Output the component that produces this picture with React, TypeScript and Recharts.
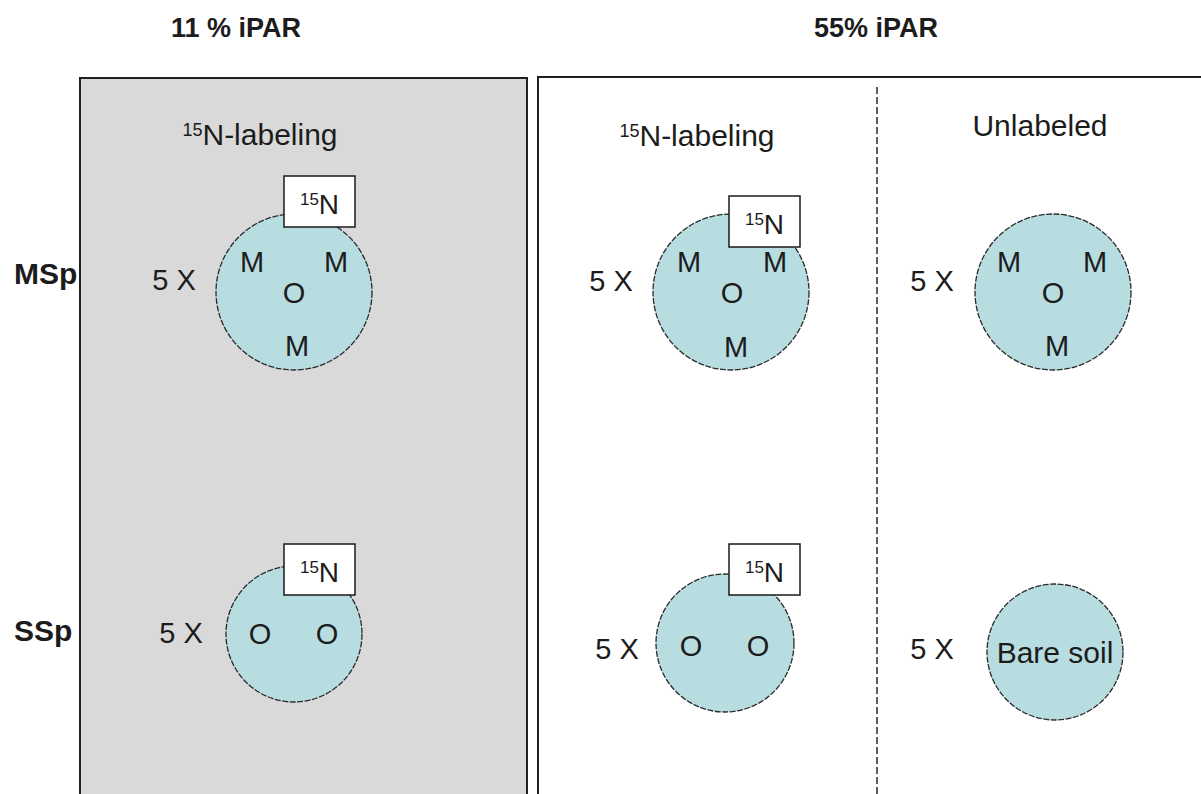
import {
  ReferenceArea,
  ReferenceLine,
  Scatter,
  ScatterChart,
  XAxis,
  YAxis,
} from "recharts";

const W = 1201;
const H = 794;
// layout units: 1 unit = 10 px of the original slide
const X_MAX = 120.1;
const Y_MAX = 79.4;
const PX = W / X_MAX;

const FONT = "'Liberation Sans', Arial, Helvetica, sans-serif";
const INK = "#1c1c1c";

// light treatments
const lightLevels = ["11 % iPAR", "55% iPAR"];
const lightX = [23.6, 87.6];
const lightY = [2.75, 2.75];

// species mixtures (rows)
const mixtures = ["MSp", "SSp"];
const mixtureX = [1.4, 1.4];
const mixtureY = [27.3, 63.0];

// labeling treatments (columns)
const labeling = ["15N-labeling", "15N-labeling", "Unlabeled"];
const labelingX = [26.0, 69.7, 104.0];
const labelingY = [13.4, 13.5, 12.5];

// pots, one per mixture x treatment
const potX = [29.4, 73.1, 105.3, 29.4, 72.5, 105.5];
const potY = [29.2, 29.2, 29.2, 63.4, 64.3, 65.2];
const potR = [7.8, 7.8, 7.8, 6.8, 6.9, 6.8];
const potNote = ["", "", "", "", "", "Bare soil"];

// replication next to each pot
const replicates = ["5 X", "5 X", "5 X", "5 X", "5 X", "5 X"];
const repX = [17.4, 61.1, 93.2, 18.1, 61.7, 93.2];
const repY = [28.0, 28.1, 28.1, 63.3, 64.9, 64.9];

// 15N tags (top-left corner)
const tags = ["15N", "15N", "15N", "15N"];
const tagX = [28.4, 72.9, 28.4, 72.9];
const tagY = [17.6, 19.6, 54.4, 54.4];
const TAG_W = 7.1;
const TAG_H = 5.1;

// plants inside the pots
const plantSpecies = [
  "M", "M", "O", "M",
  "M", "M", "O", "M",
  "M", "M", "O", "M",
  "O", "O",
  "O", "O",
];
const plantX = [
  25.2, 33.6, 29.4, 29.7,
  68.9, 77.5, 73.2, 73.6,
  100.9, 109.5, 105.3, 105.7,
  26.0, 32.7,
  69.1, 75.8,
];
const plantY = [
  26.2, 26.2, 29.3, 34.6,
  26.2, 26.2, 29.3, 34.7,
  26.2, 26.2, 29.3, 34.6,
  63.4, 63.4,
  64.6, 64.6,
];

const titleData = lightLevels.map((text, i) => ({ x: lightX[i], y: lightY[i], text }));
const mixtureData = mixtures.map((text, i) => ({ x: mixtureX[i], y: mixtureY[i], text }));
const labelingData = labeling.map((text, i) => ({ x: labelingX[i], y: labelingY[i], text }));
const potData = potX.map((x, i) => ({ x, y: potY[i], r: potR[i], note: potNote[i] }));
const repData = replicates.map((text, i) => ({ x: repX[i], y: repY[i], text }));
const tagData = tags.map((text, i) => ({ x: tagX[i], y: tagY[i], text }));
const plantData = plantSpecies.map((text, i) => ({ x: plantX[i], y: plantY[i], text }));

// text whose leading "15" is an isotope superscript
function Iso({ text, size }: { text: string; size: number }) {
  if (!text.startsWith("15")) return <>{text}</>;
  const sup = Math.round(size * 0.6);
  const lift = size * 0.3;
  return (
    <>
      <tspan fontSize={sup} dy={-lift}>15</tspan>
      <tspan fontSize={size} dy={lift}>{text.slice(2)}</tspan>
    </>
  );
}

const textShape =
  (size: number, weight: number | string = "normal", anchor: "start" | "middle" = "middle") =>
  (p: any) => (
    <text
      x={p.cx}
      y={p.cy + size * 0.36}
      textAnchor={anchor}
      fontFamily={FONT}
      fontSize={size}
      fontWeight={weight}
      fill={INK}
    >
      <Iso text={p.payload.text} size={size} />
    </text>
  );

const potShape = (p: any) => (
  <g>
    <circle
      cx={p.cx}
      cy={p.cy}
      r={p.payload.r * PX}
      fill="#b8dde1"
      stroke="#2a2a2a"
      strokeWidth={1.3}
      strokeDasharray="6 1.5"
    />
    {p.payload.note && (
      <text
        x={p.cx}
        y={p.cy + 30 * 0.36}
        textAnchor="middle"
        fontFamily={FONT}
        fontSize={30}
        fill={INK}
      >
        {p.payload.note}
      </text>
    )}
  </g>
);

const tagShape = (p: any) => {
  const w = TAG_W * PX;
  const h = TAG_H * PX;
  return (
    <g>
      <rect x={p.cx} y={p.cy} width={w} height={h} fill="#ffffff" stroke="#1a1a1a" strokeWidth={1.5} />
      <text
        x={p.cx + w / 2}
        y={p.cy + h / 2 + 28 * 0.36 + 2}
        textAnchor="middle"
        fontFamily={FONT}
        fontSize={28}
        fill={INK}
      >
        <Iso text={p.payload.text} size={28} />
      </text>
    </g>
  );
};

export default function App() {
  return (
    <div style={{ position: "absolute", left: 0, top: 0, background: "#ffffff" }}>
      <ScatterChart width={W} height={H} margin={{ top: 0, right: 0, bottom: 0, left: 0 }}>
        <XAxis type="number" dataKey="x" domain={[0, X_MAX]} hide />
        <YAxis type="number" dataKey="y" domain={[0, Y_MAX]} reversed hide />
        <ReferenceArea
          x1={8.0}
          x2={52.7}
          y1={7.8}
          y2={Y_MAX + 1}
          ifOverflow="visible"
          fill="#d9d9d9"
          fillOpacity={1}
          stroke="#1f1f1f"
          strokeWidth={2}
        />
        <ReferenceArea
          x1={53.8}
          x2={X_MAX + 1}
          y1={7.7}
          y2={Y_MAX + 1}
          ifOverflow="visible"
          fill="#ffffff"
          fillOpacity={1}
          stroke="#1f1f1f"
          strokeWidth={2}
        />
        <ReferenceLine
          segment={[
            { x: 87.7, y: 8.7 },
            { x: 87.7, y: Y_MAX },
          ]}
          stroke="#2a2a2a"
          strokeWidth={1.5}
          strokeDasharray="7 3"
        />
        <Scatter data={titleData} shape={textShape(27, "bold")} isAnimationActive={false} />
        <Scatter data={mixtureData} shape={textShape(30, "bold", "start")} isAnimationActive={false} />
        <Scatter data={labelingData} shape={textShape(30)} isAnimationActive={false} />
        <Scatter data={repData} shape={textShape(29)} isAnimationActive={false} />
        <Scatter data={potData} shape={potShape} isAnimationActive={false} />
        <Scatter data={plantData} shape={textShape(29)} isAnimationActive={false} />
        <Scatter data={tagData} shape={tagShape} isAnimationActive={false} />
      </ScatterChart>
    </div>
  );
}
